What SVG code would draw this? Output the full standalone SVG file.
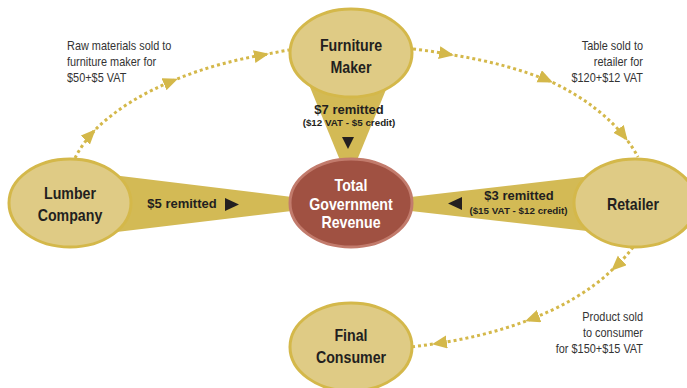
<svg xmlns="http://www.w3.org/2000/svg" width="687" height="388" viewBox="0 0 687 388">
  <style>
    .node { fill: #dfcb85; stroke: #d4b84a; stroke-width: 3; }
    .gov { fill: #a05142; stroke: #c27b6c; stroke-width: 3; }
    .wedge { fill: #d3ba55; }
    .flow { fill: none; stroke: #d4b84a; stroke-width: 3; stroke-dasharray: 3 3; marker-mid: url(#arr); }
    .nt { font-family: "Liberation Sans", Arial, sans-serif; font-weight: bold; font-size: 16.5px; fill: #231f20; text-anchor: middle; }
    .gt { font-family: "Liberation Sans", Arial, sans-serif; font-weight: bold; font-size: 16.5px; fill: #ffffff; text-anchor: middle; }
    .ann { font-family: "Liberation Sans", Arial, sans-serif; font-size: 13px; fill: #333333; }
    .rem { font-family: "Liberation Sans", Arial, sans-serif; font-weight: bold; font-size: 13px; fill: #231f20; text-anchor: middle; }
    .sub { font-family: "Liberation Sans", Arial, sans-serif; font-weight: bold; font-size: 9.8px; fill: #231f20; text-anchor: middle; }
    .tri { fill: #231f20; }
  </style>
  <defs>
    <marker id="arr" markerUnits="userSpaceOnUse" markerWidth="16" markerHeight="14" refX="14" refY="6.5" orient="auto" viewBox="0 0 16 14">
      <path d="M0,0 L15,6.5 L0,13 z" fill="#d4b84a"/>
    </marker>
  </defs>

  <g id="wedges">
    <polygon class="wedge" points="100,173.5 300,198 300,210 100,234"/>
    <polygon class="wedge" points="402,198 600,175 600,232.5 402,210"/>
    <polygon class="wedge" points="305,75 392,75 353,170 344,170"/>
  </g>

  <g id="connectors">
    <path class="flow" d="M75,158 A290,155 0 0 1 95,130 A290,155 0 0 1 177,79 A290,155 0 0 1 268,54 A290,155 0 0 1 289,50"/>
    <path class="flow" d="M413,49 A300,158 0 0 1 453,55 A300,158 0 0 1 552,82 A300,158 0 0 1 627,140 A300,158 0 0 1 638,157"/>
    <path class="flow" d="M633,247 A285,150 0 0 1 612,270 A285,150 0 0 1 526,321 A285,150 0 0 1 433,344 A285,150 0 0 1 410,347"/>
  </g>

  <g id="furniture-maker">
    <ellipse class="node" cx="351" cy="53" rx="61" ry="44"/>
    <g transform="translate(351 0) scale(0.86 1)">
      <text class="nt" x="0" y="51">Furniture</text>
      <text class="nt" x="0" y="73">Maker</text>
    </g>
  </g>

  <g id="lumber-company">
    <ellipse class="node" cx="70" cy="203" rx="61" ry="44"/>
    <g transform="translate(70 0) scale(0.86 1)">
      <text class="nt" x="0" y="199">Lumber</text>
      <text class="nt" x="0" y="221">Company</text>
    </g>
  </g>

  <g id="retailer">
    <ellipse class="node" cx="635" cy="203" rx="61" ry="44"/>
    <g transform="translate(633 0) scale(0.86 1)">
      <text class="nt" x="0" y="210">Retailer</text>
    </g>
  </g>

  <g id="final-consumer">
    <ellipse class="node" cx="351" cy="347" rx="61" ry="44"/>
    <g transform="translate(351 0) scale(0.86 1)">
      <text class="nt" x="0" y="341">Final</text>
      <text class="nt" x="0" y="363">Consumer</text>
    </g>
  </g>

  <g id="total-government-revenue">
    <ellipse class="gov" cx="351" cy="203" rx="61" ry="44"/>
    <g transform="translate(351 0) scale(0.86 1)">
      <text class="gt" x="0" y="191">Total</text>
      <text class="gt" x="0" y="210">Government</text>
      <text class="gt" x="0" y="228">Revenue</text>
    </g>
  </g>

  <g id="labels">
    <text class="rem" x="349" y="114">$7 remitted</text>
    <text class="sub" x="349" y="126">($12 VAT - $5 credit)</text>
    <polygon class="tri" points="342,137 354,137 348,149"/>

    <text class="rem" x="182" y="208">$5 remitted</text>
    <polygon class="tri" points="225,198 225,211 239,204.5"/>

    <text class="rem" x="519" y="200">$3 remitted</text>
    <text class="sub" x="518.5" y="214">($15 VAT - $12 credit)</text>
    <polygon class="tri" points="462,197 462,210 448,203.5"/>

    <g transform="translate(67 0) scale(0.84 1)">
      <text class="ann" x="0" y="50">Raw materials sold to</text>
      <text class="ann" x="0" y="66">furniture maker for</text>
      <text class="ann" x="0" y="82">$50+$5 VAT</text>
    </g>

    <g transform="translate(643 0) scale(0.84 1)">
      <text class="ann" x="0" y="50" text-anchor="end">Table sold to</text>
      <text class="ann" x="0" y="66" text-anchor="end">retailer for</text>
      <text class="ann" x="0" y="82" text-anchor="end">$120+$12 VAT</text>
    </g>

    <g transform="translate(643 0) scale(0.84 1)">
      <text class="ann" x="0" y="321" text-anchor="end">Product sold</text>
      <text class="ann" x="0" y="337" text-anchor="end">to consumer</text>
      <text class="ann" x="0" y="353" text-anchor="end">for $150+$15 VAT</text>
    </g>
  </g>
</svg>
